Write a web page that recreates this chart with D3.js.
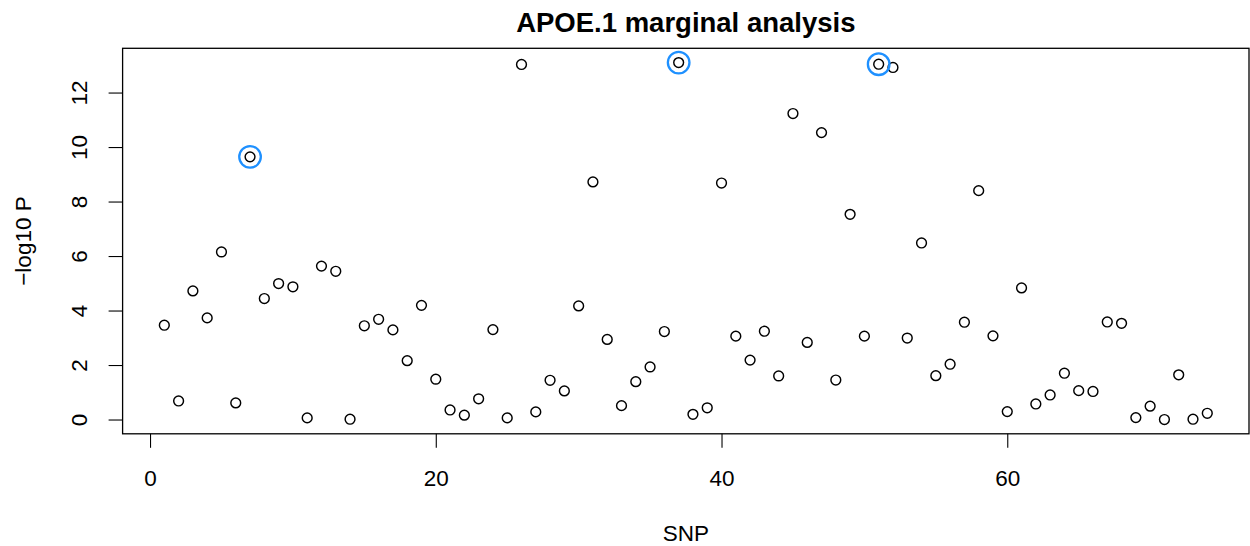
<!DOCTYPE html>
<html>
<head>
<meta charset="utf-8">
<script src="https://cdn.jsdelivr.net/npm/d3@7"></script>
<style>
  body { margin: 0; background: #fff; }
  text { font-family: "Liberation Sans", Arial, Helvetica, sans-serif; fill: #000; }
</style>
</head>
<body>
<div id="chart"></div>
<script>
'use strict';

// -log10 P per SNP
var snp = d3.range(1, 75);
var logP = [
  3.46, 0.68, 4.72, 3.73, 6.15, 0.61, 9.64, 4.44, 4.99, 4.87,
  0.06, 5.63, 5.44, 0.01, 3.44, 3.68, 3.29, 2.16, 4.19, 1.48,
  0.35, 0.16, 0.76, 3.30, 0.06, 13.03, 0.28, 1.44, 1.05, 4.17,
  8.72, 2.94, 0.51, 1.39, 1.93, 3.23, 13.10, 0.19, 0.43, 8.68,
  3.06, 2.18, 3.24, 1.60, 11.23, 2.83, 10.53, 1.45, 7.53, 3.06,
  13.04, 12.92, 2.99, 6.48, 1.61, 2.03, 3.57, 8.40, 3.07, 0.29,
  4.83, 0.57, 0.90, 1.70, 1.06, 1.03, 3.58, 3.53, 0.07, 0.49,
  0.00, 1.64, 0.01, 0.23
];
var highlighted = [7, 37, 51];
var xTicks = [0, 20, 40, 60];
var yTicks = [0, 2, 4, 6, 8, 10, 12];

var W = 1250, H = 546;
var plotLeft = 122.6, plotRight = 1249, plotTop = 48.3, plotBottom = 433.8;

// R style 4% padding on the data range
function pad(ext) {
  var d = (ext[1] - ext[0]) * 0.04;
  return [ext[0] - d, ext[1] + d];
}

var x = d3.scaleLinear().domain(pad(d3.extent(snp))).range([plotLeft, plotRight]);
var y = d3.scaleLinear().domain(pad(d3.extent(logP))).range([plotBottom, plotTop]);

var svg = d3.select('#chart').append('svg')
  .attr('width', W)
  .attr('height', H);

// points
svg.append('g').selectAll('circle')
  .data(snp)
  .join('circle')
  .attr('cx', function (d) { return x(d); })
  .attr('cy', function (d, i) { return y(logP[i]); })
  .attr('r', 4.9)
  .style('fill', 'none')
  .style('stroke', '#000')
  .style('stroke-width', 1.45);

// highlighted SNPs
svg.append('g').selectAll('circle')
  .data(highlighted)
  .join('circle')
  .attr('cx', function (d) { return x(d); })
  .attr('cy', function (d) { return y(logP[d - 1]); })
  .attr('r', 10.8)
  .style('fill', 'none')
  .style('stroke', '#1E90FF')
  .style('stroke-width', 2.3);

// box
svg.append('rect')
  .attr('x', plotLeft)
  .attr('y', plotTop)
  .attr('width', plotRight - plotLeft)
  .attr('height', plotBottom - plotTop)
  .style('fill', 'none')
  .style('stroke', '#000')
  .style('stroke-width', 1.3);

// x axis
var xAxis = svg.append('g')
  .attr('transform', 'translate(0,' + plotBottom + ')')
  .call(d3.axisBottom(x).tickValues(xTicks).tickSize(14).tickSizeOuter(0));
xAxis.select('.domain').remove();
xAxis.selectAll('line').style('stroke', '#000').style('stroke-width', 1.1);
xAxis.selectAll('text')
  .attr('y', 52)
  .attr('dy', 0)
  .style('font-size', '22.5px')
  .style('font-family', '"Liberation Sans", Arial, sans-serif');

// y axis, labels rotated like R's default las = 0
var yAxis = svg.append('g')
  .attr('transform', 'translate(' + plotLeft + ',0)')
  .call(d3.axisLeft(y).tickValues(yTicks).tickSize(14).tickSizeOuter(0));
yAxis.select('.domain').remove();
yAxis.selectAll('line').style('stroke', '#000').style('stroke-width', 1.1);
yAxis.selectAll('text')
  .attr('transform', 'rotate(-90)')
  .attr('x', 0)
  .attr('y', -35.6)
  .attr('dy', 0)
  .attr('text-anchor', 'middle')
  .style('font-size', '22.5px')
  .style('font-family', '"Liberation Sans", Arial, sans-serif');

// labels
svg.append('text')
  .attr('x', (plotLeft + plotRight) / 2)
  .attr('y', 31.5)
  .attr('text-anchor', 'middle')
  .style('font-size', '27.5px')
  .style('font-weight', 'bold')
  .text('APOE.1 marginal analysis');

svg.append('text')
  .attr('x', (plotLeft + plotRight) / 2)
  .attr('y', 541)
  .attr('text-anchor', 'middle')
  .style('font-size', '22.5px')
  .text('SNP');

svg.append('text')
  .attr('transform', 'translate(31,' + (plotTop + plotBottom) / 2 + ') rotate(-90)')
  .attr('text-anchor', 'middle')
  .style('font-size', '22.5px')
  .text('\u2212log10 P');
</script>
</body>
</html>
